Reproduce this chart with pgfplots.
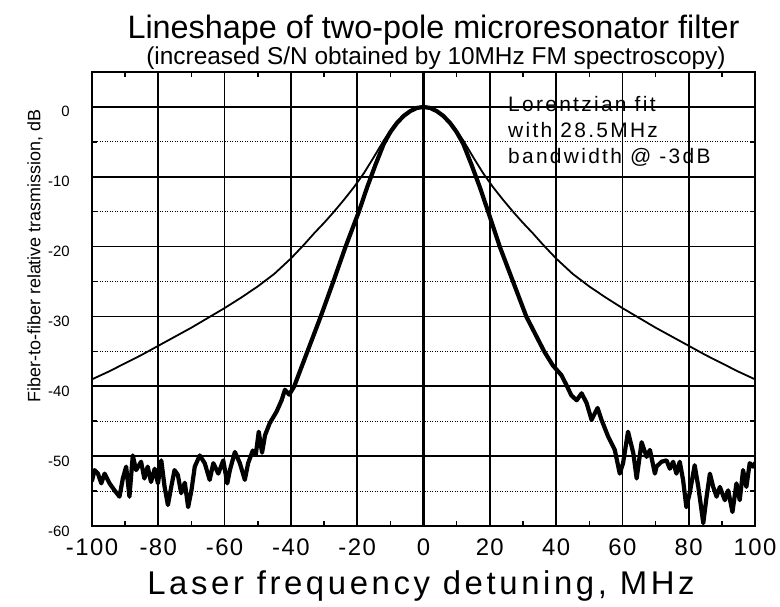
\documentclass[border=0pt]{standalone}
\usepackage{fontspec}
\setmainfont{Liberation Sans}
\newfontfamily\spaced{Liberation Sans}[LetterSpace=6]
\newfontfamily\spacedb{Liberation Sans}[LetterSpace=11]
\usepackage{pgfplots}
\pgfplotsset{compat=1.18}
\pgfplotsset{layers/mylayers/.define layer set={axis background,axis grid,boxlayer,axis ticks,axis lines,axis tick labels,main,axis descriptions,axis foreground}{}}

\pgfplotstableread{
x y
-100 -39.0
-95 -37.9
-90 -36.7
-85 -35.5
-80 -34.2
-75 -32.9
-70 -31.6
-65 -30.2
-60 -28.8
-55 -27.3
-50 -25.7
-45 -23.9
-40 -21.7
-36 -19.7
-33 -18.1
-30 -16.6
-27 -15.0
-24 -13.3
-21 -11.5
-18 -9.5
-15 -7.2
-12 -4.8
-9 -2.7
-6 -1.2
-3 -0.3
0 0
3 -0.3
6 -1.2
9 -2.7
12 -4.8
15 -7.2
18 -9.5
21 -11.5
24 -13.3
27 -15.0
30 -16.6
33 -18.1
36 -19.7
40 -21.7
45 -23.9
50 -25.7
55 -27.3
60 -28.8
65 -30.2
70 -31.6
75 -32.9
80 -34.2
85 -35.5
90 -36.7
95 -37.9
100 -39.0
}\fit

\pgfplotstableread{
x y
-100 -53.5
-99.2 -52
-98.2 -52.5
-97.2 -53.9
-96.2 -52.5
-94.7 -53.9
-93.2 -54.9
-91.7 -55.8
-90.7 -53.2
-89.7 -51.5
-88.7 -55.8
-87.7 -49.9
-86.7 -52
-85.2 -50.8
-84.2 -53.2
-83.2 -51.5
-82.2 -53.7
-81.1 -51.8
-80.1 -53.9
-79.1 -50.6
-78.1 -54.4
-77.1 -57
-76.1 -54.4
-75.1 -52
-74.1 -52.7
-73.1 -55.3
-72 -53.8
-71 -57.3
-70 -54.9
-69 -51.5
-67.5 -49.9
-66 -51
-64.5 -53.4
-63.4 -51
-61.9 -52.5
-60.4 -50.6
-59.2 -53.9
-58.4 -52
-56.9 -49.4
-55.4 -51
-53.9 -53.4
-52.9 -51
-51.5 -49.2
-50.6 -49.8
-49.7 -46.5
-48.7 -49.5
-47.8 -47
-46.4 -45.3
-44.3 -43.6
-42.8 -42
-41.8 -40.5
-40.5 -41.2
-39 -40
-35 -35
-31 -30
-27.2 -25
-23.5 -20
-19.5 -15
-17 -11.5
-14.5 -8.3
-12 -5.3
-10 -3.6
-8 -2.3
-6 -1.3
-4 -0.6
-2 -0.15
0 0
2 -0.15
4 -0.6
6 -1.3
8 -2.3
10 -3.6
12 -5.3
14.5 -8.3
17 -11.5
19.5 -15
23 -20
27 -25
31 -30
36.4 -35
39 -37
41.6 -38.4
43.1 -39.8
44.6 -41.3
46.2 -42
47.7 -41
49.2 -42.4
50.7 -44.8
52.5 -43.1
53.7 -44.8
55.7 -47.2
57.7 -49.1
59.2 -52.5
60.2 -51
61.7 -46.5
63.3 -49.6
64.3 -53.2
65.8 -48
67.3 -50.1
68.3 -49.1
69.8 -52.5
70.3 -51.5
71.8 -50.8
73.3 -50.6
74.3 -51.8
75.3 -50.8
76.3 -52.5
77.3 -50.8
78.3 -53.4
79.3 -57.3
80.3 -55.3
81.8 -51.3
82.9 -54.4
84.4 -59.6
85.4 -55.8
86.4 -52.5
87.4 -54.4
88.4 -55.8
89.4 -54.4
90.9 -56.3
91.9 -54.9
93.2 -58
94.4 -53.9
95.4 -56.3
96.4 -52
97.4 -54.4
98.4 -51
99.4 -51.5
100 -51
}\meas

\begin{document}
\begin{tikzpicture}
\begin{axis}[
  set layers=mylayers,
  scale only axis,
  width=663bp, height=454bp,
  xmin=-100, xmax=100, ymin=-60, ymax=5,
  xtick={-100,-80,...,100},
  ytick={-60,-50,...,0},
  minor x tick num=1,
  minor y tick num=1,
  tick align=inside,
  major tick length=10bp,
  minor tick length=5bp,
  every tick/.style={black, line width=1.5bp},
  axis line style={black, line width=2.2bp},
  xmajorgrids, ymajorgrids, yminorgrids,
  major grid style={black, line width=1.7bp},
  minor grid style={black, line width=0.9bp, dash pattern=on 0.9bp off 1.6bp},
  extra x ticks={0},
  extra x tick labels={},
  extra x tick style={major grid style={black, line width=3.5bp}},
  /pgf/number format/assume math mode=true,
  xticklabel style={font=\fontsize{24}{24}\selectfont\spaced, anchor=base, inner sep=0pt, yshift=-29bp},
  yticklabel style={font=\fontsize{15}{15}\selectfont, anchor=base east, inner sep=0pt, xshift=-22bp, yshift=-10bp},
]
\begin{pgfonlayer}{boxlayer}
\fill[white] (axis cs:21.5,-10.3) rectangle (axis cs:100,5);
\end{pgfonlayer}
\addplot[black, line width=1.8bp, line join=round] table[x=x,y=y] {\fit};
\addplot[black, line width=4.2bp, line join=round, line cap=round] table[x=x,y=y] {\meas};
\coordinate (sw) at (rel axis cs:0,0);
\coordinate (nw) at (rel axis cs:0,1);
\end{axis}
\node[anchor=base, font=\fontsize{32.5}{32.5}\selectfont] at ([shift={(341.5bp,33bp)}]nw) {Lineshape of two-pole microresonator filter};
\node[anchor=base, font=\fontsize{24.5}{24.5}\selectfont] at ([shift={(344bp,7bp)}]nw) {(increased S/N obtained by 10MHz FM spectroscopy)};
\node[anchor=base, font=\fontsize{33}{33}\selectfont\spacedb] at ([shift={(329bp,-68bp)}]sw) {Laser frequency detuning, MHz};
\node[rotate=90, anchor=center, font=\fontsize{18}{18}\selectfont] at ([shift={(-57bp,270bp)}]sw) {Fiber-to-fiber relative trasmission, dB};
\node[anchor=base west, inner sep=0pt, font=\fontsize{21}{21}\selectfont\spacedb] at ([shift={(416bp,414.3bp)}]sw) {Lorentzian fit};
\node[anchor=base west, inner sep=0pt, font=\fontsize{21}{21}\selectfont\spacedb] at ([shift={(416bp,388.7bp)}]sw) {with 28.5MHz};
\node[anchor=base west, inner sep=0pt, font=\fontsize{21}{21}\selectfont\spacedb] at ([shift={(416bp,362.7bp)}]sw) {bandwidth @ -3dB};
\pgfresetboundingbox
\path (sw) ++(-92bp,-81bp) rectangle ++(780bp,607bp);
\end{tikzpicture}
\end{document}
